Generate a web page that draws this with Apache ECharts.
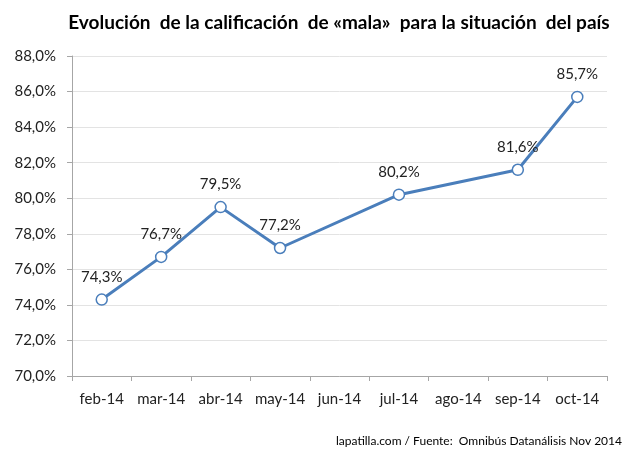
<!DOCTYPE html>
<html><head><meta charset="utf-8">
<script src="https://cdn.jsdelivr.net/npm/echarts@6/dist/echarts.min.js"></script>
<style>html,body{margin:0;padding:0;background:#fff}#c{width:640px;height:455px}</style>
</head><body><div id="c"></div>
<script>
const categories = ['feb-14','mar-14','abr-14','may-14','jun-14','jul-14','ago-14','sep-14','oct-14'];
const values = [74.3, 76.7, 79.5, 77.2, null, 80.2, null, 81.6, 85.7];
const titleText = 'Evolución  de la calificación  de «mala»  para la situación  del país';
const sourceText = 'lapatilla.com / Fuente:  Omnibús Datanálisis Nov 2014';
const fmt = v => v.toFixed(1).replace('.', ',') + '%';
const chart = echarts.init(document.getElementById('c'));
chart.setOption({
  backgroundColor: '#fff',
  animation: false,
  title: [{
    text: titleText, left: 334, top: 8, textAlign: 'center',
    textStyle: {fontFamily: 'Lato', fontWeight: 'bold', fontSize: 19, color: '#000'}
  }, {
    text: sourceText, right: 13, top: 430,
    textStyle: {fontFamily: 'Lato', fontWeight: 'normal', fontSize: 12, color: '#000'}
  }],
  grid: {left: 72, right: 33, top: 56, bottom: 79, containLabel: false},
  xAxis: {
    type: 'category', data: categories, boundaryGap: true,
    axisLine: {lineStyle: {color: '#a6a6a6'}},
    axisTick: {show: true, length: 5, inside: false, interval: 0, lineStyle: {color: '#a6a6a6'}},
    axisLabel: {fontFamily: 'Lato', fontSize: 15, color: '#222', margin: 16, interval: 0}
  },
  yAxis: {
    type: 'value', min: 70, max: 88, interval: 2,
    axisLine: {show: true, lineStyle: {color: '#a6a6a6'}},
    axisTick: {show: true, length: 5, lineStyle: {color: '#a6a6a6'}},
    splitLine: {lineStyle: {color: '#e3e3e3'}},
    axisLabel: {fontFamily: 'Lato', fontSize: 15, color: '#222', margin: 16, formatter: v => fmt(v)}
  },
  series: [{
    type: 'line', data: values, connectNulls: true,
    lineStyle: {color: '#4a7ebb', width: 3},
    itemStyle: {color: '#fff', borderColor: '#4a7ebb', borderWidth: 1.5},
    symbol: 'circle', symbolSize: 11,
    label: {show: true, position: 'top', distance: 9, fontFamily: 'Lato', fontSize: 15, color: '#222',
      formatter: p => fmt(p.value)}
  }]
});
</script></body></html>
